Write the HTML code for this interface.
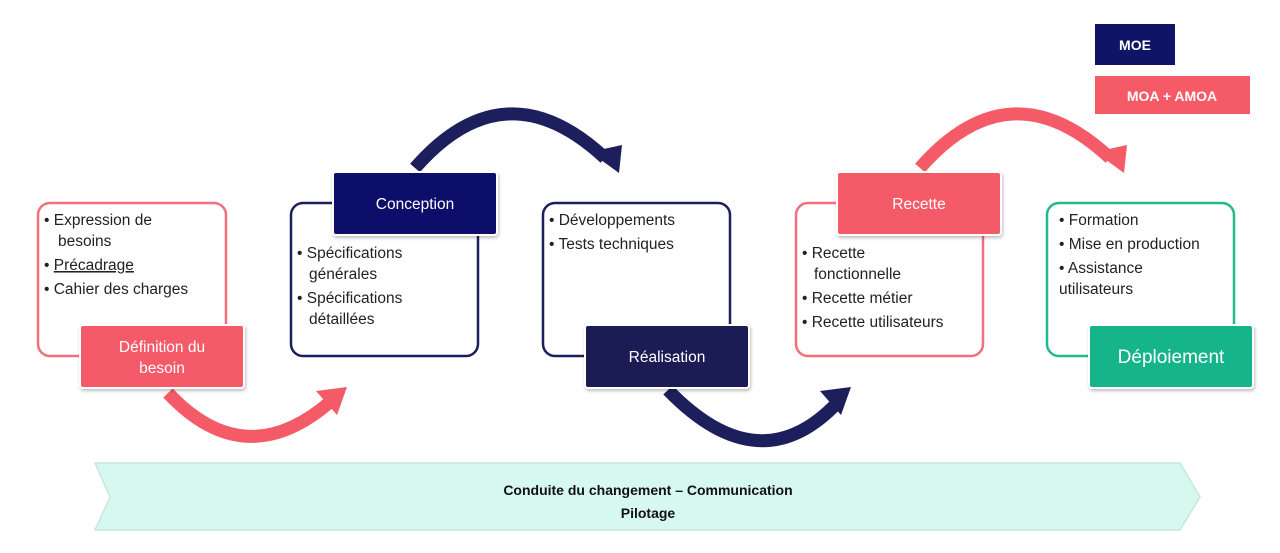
<!DOCTYPE html>
<html><head><meta charset="utf-8"><style>
html,body{margin:0;padding:0;background:#fff;}
svg{display:block;}
text{font-family:"Liberation Sans","DejaVu Sans",sans-serif;}
</style></head><body>
<svg width="1280" height="553" viewBox="0 0 1280 553" xmlns="http://www.w3.org/2000/svg">
<defs>
<filter id="sh" x="-10%" y="-10%" width="130%" height="140%"><feDropShadow dx="1" dy="2" stdDeviation="1.5" flood-color="#000" flood-opacity="0.25"/></filter>
</defs>

<rect x="1095" y="24" width="80" height="41" fill="#0f1466"/>
<text x="1135" y="50" font-size="14" font-weight="bold" fill="#fff" text-anchor="middle">MOE</text>
<rect x="1095" y="76" width="155" height="38" fill="#f55a67"/>
<text x="1172" y="101" font-size="14" font-weight="bold" fill="#fff" text-anchor="middle">MOA + AMOA</text>

<path d="M168 393 Q245 475 330 402" fill="none" stroke="#f55a67" stroke-width="13"/>
<polygon points="347,387 316,391 337,415" fill="#f55a67"/>
<path d="M415 168 Q505 65 605 158" fill="none" stroke="#1d1f5c" stroke-width="13"/>
<polygon points="619,173 590,152 622,145" fill="#1d1f5c"/>
<path d="M668 390 Q760 485 838 402" fill="none" stroke="#1d1f5c" stroke-width="13"/>
<polygon points="851,387 820,391 841,415" fill="#1d1f5c"/>
<path d="M920 168 Q1010 65 1110 158" fill="none" stroke="#f55a67" stroke-width="13"/>
<polygon points="1124,173 1095,152 1127,145" fill="#f55a67"/>

<rect x="38" y="203" width="188" height="153" rx="12" fill="#fff" stroke="#f0707c" stroke-width="2.5"/>
<rect x="291" y="203" width="187" height="153" rx="12" fill="#fff" stroke="#1d1f5c" stroke-width="2.5"/>
<rect x="543" y="203" width="187" height="153" rx="12" fill="#fff" stroke="#1d1f5c" stroke-width="2.5"/>
<rect x="796" y="203" width="187" height="153" rx="12" fill="#fff" stroke="#f0707c" stroke-width="2.5"/>
<rect x="1047" y="203" width="187" height="153" rx="12" fill="#fff" stroke="#22b98f" stroke-width="2.5"/>

<g font-size="15.5" fill="#222">
<text x="44" y="225">• Expression de</text>
<text x="58" y="246">besoins</text>
<text x="44" y="270">• <tspan text-decoration="underline">Précadrage</tspan></text>
<text x="44" y="294">• Cahier des charges</text>

<text x="297" y="258">• Spécifications</text>
<text x="309" y="279">générales</text>
<text x="297" y="303">• Spécifications</text>
<text x="309" y="324">détaillées</text>

<text x="549" y="225">• Développements</text>
<text x="549" y="249">• Tests techniques</text>

<text x="802" y="258">• Recette</text>
<text x="814" y="279">fonctionnelle</text>
<text x="802" y="303">• Recette métier</text>
<text x="802" y="327">• Recette utilisateurs</text>

<text x="1059" y="225">• Formation</text>
<text x="1059" y="249">• Mise en production</text>
<text x="1059" y="273">• Assistance</text>
<text x="1059" y="294">utilisateurs</text>
</g>

<g filter="url(#sh)">
<rect x="80" y="325" width="164" height="63" rx="3" fill="#f55a67" stroke="#fff" stroke-width="2"/>
<rect x="333" y="172" width="164" height="63" rx="3" fill="#0c0f6b" stroke="#fff" stroke-width="2"/>
<rect x="585" y="325" width="164" height="63" rx="3" fill="#1f1d55" stroke="#fff" stroke-width="2"/>
<rect x="837" y="172" width="164" height="63" rx="3" fill="#f55a67" stroke="#fff" stroke-width="2"/>
<rect x="1089" y="325" width="164" height="63" rx="3" fill="#16b48a" stroke="#fff" stroke-width="2"/>
</g>
<g fill="#fff" text-anchor="middle">
<text x="162" y="352" font-size="15.5">Définition du</text>
<text x="162" y="373" font-size="15.5">besoin</text>
<text x="415" y="209" font-size="15.5">Conception</text>
<text x="667" y="362" font-size="15.5">Réalisation</text>
<text x="919" y="209" font-size="15.5">Recette</text>
<text x="1171" y="363" font-size="19">Déploiement</text>
</g>

<polygon points="95,463 1180,463 1200,497 1180,530 95,530 110,497" fill="#d7f8ef" stroke="#c6e6de" stroke-width="1.5"/>
<text x="648" y="495" font-size="14" font-weight="bold" fill="#111" text-anchor="middle">Conduite du changement – Communication</text>
<text x="648" y="518" font-size="14" font-weight="bold" fill="#111" text-anchor="middle">Pilotage</text>
</svg>
</body></html>
